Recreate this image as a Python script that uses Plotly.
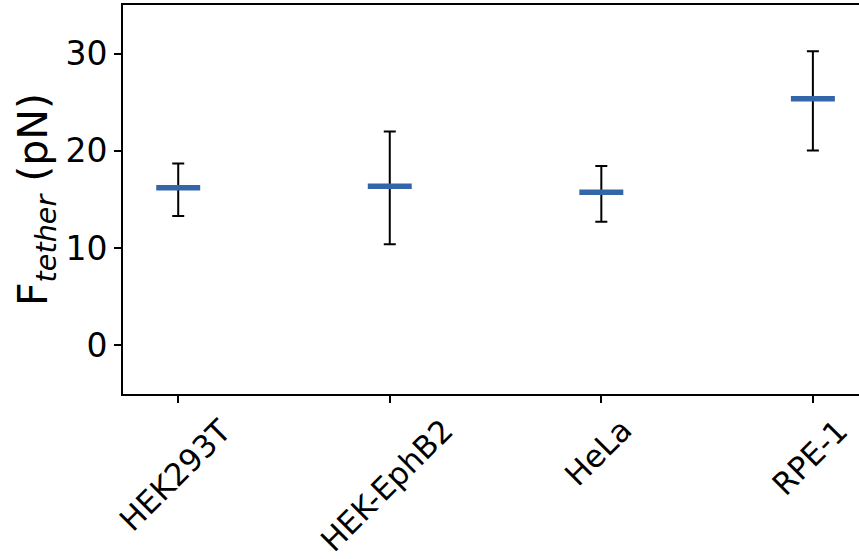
import plotly.graph_objects as go

categories = ["HEK293T", "HEK-EphB2", "HeLa", "RPE-1"]
means = [16.2, 16.35, 15.75, 25.35]
err_plus = [2.5, 5.65, 2.7, 4.9]
err_minus = [2.9, 5.95, 3.05, 5.3]

ytick_vals = [0, 10, 20, 30]

FONT = "DejaVu Sans"
BLUE = "#3465a8"

xpos = list(range(len(categories)))

fig = go.Figure()
fig.add_trace(go.Scatter(
    x=xpos, y=means, mode="markers",
    marker=dict(symbol="line-ew", size=31.4, line=dict(color=BLUE, width=5.5), color=BLUE),
    error_y=dict(type="data", symmetric=False, array=err_plus, arrayminus=err_minus,
                 color="black", thickness=2, width=6),
    showlegend=False, hoverinfo="skip",
))

for i, c in enumerate(categories):
    fig.add_annotation(x=i, xref="x", y=0, yref="paper", text=c, showarrow=False,
                       textangle=-45, xanchor="center", yanchor="top", yshift=-15, xshift=-3,
                       font=dict(family=FONT, size=31, color="black"))

fig.update_layout(
    width=859, height=559,
    margin=dict(l=123, r=0, t=5, b=165, autoexpand=False),
    paper_bgcolor="white", plot_bgcolor="white",
    font=dict(family=FONT, size=31, color="black"),
    xaxis=dict(range=[-0.261, 3.218], tickvals=xpos, showticklabels=False,
               ticks="outside", ticklen=7, tickwidth=1.5, tickcolor="black",
               showline=True, linecolor="black", linewidth=2, mirror=True,
               showgrid=False, zeroline=False, automargin=False),
    yaxis=dict(range=[-5, 35], tickvals=ytick_vals, ticks="outside", ticklen=7,
               tickwidth=1.5, tickcolor="black", automargin=False,
               showline=True, linecolor="black", linewidth=2,
               showgrid=False, zeroline=False,
               tickfont=dict(family=FONT, size=33, color="black"),
               title=dict(text="F<sub><i>tether</i></sub> (pN)", font=dict(family=FONT, size=41),
                          standoff=5)),
)

fig.write_html("out.html", config={"displayModeBar": False},
               post_script="document.body.style.margin='0';document.body.style.overflow='hidden';")
